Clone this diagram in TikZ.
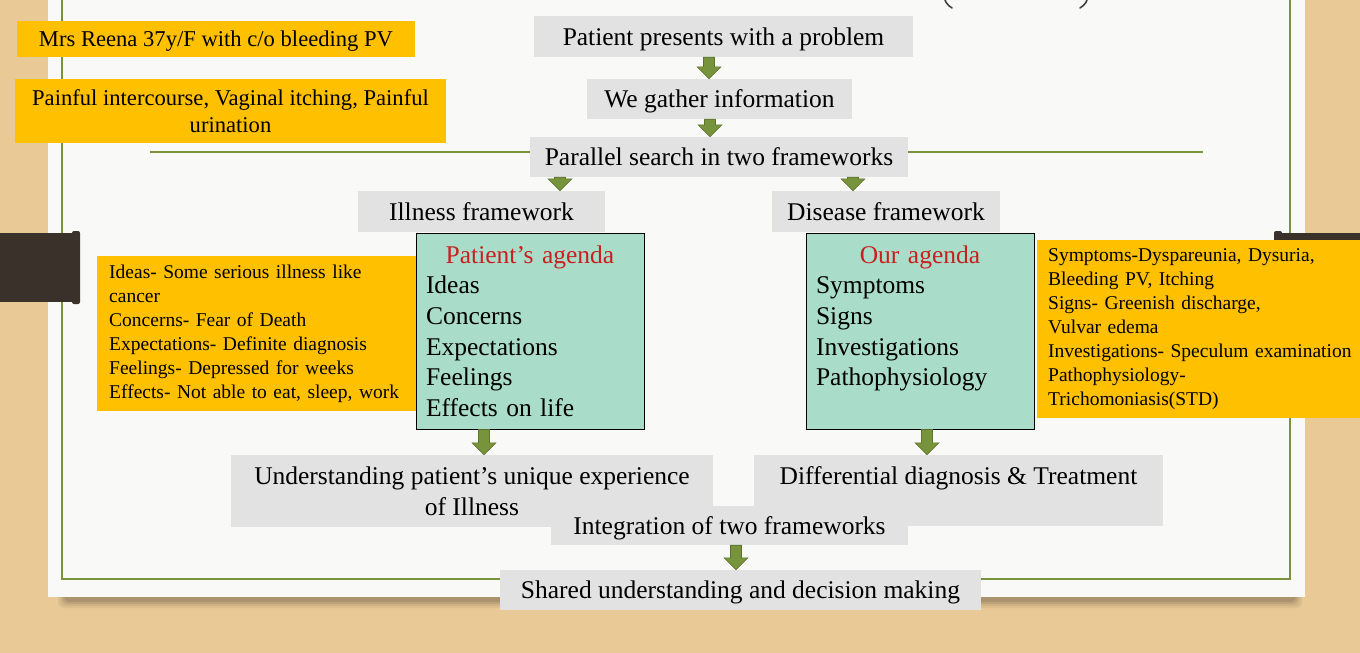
\documentclass[tikz,border=0pt]{standalone}
\usepackage{fontspec}
\setmainfont{Liberation Serif}
\usetikzlibrary{calc}
\definecolor{wood}{RGB}{233,202,150}
\definecolor{paper}{RGB}{249,249,247}
\definecolor{olive}{RGB}{119,147,60}
\definecolor{olivedark}{RGB}{92,116,44}
\definecolor{boxgray}{RGB}{226,226,226}
\definecolor{amber}{RGB}{255,192,0}
\definecolor{mint}{RGB}{169,221,201}
\definecolor{agred}{RGB}{200,32,32}
\definecolor{barc}{RGB}{58,50,42}
\newcommand\bigsz{\fontsize{25.5pt}{30.6pt}\selectfont}
\newcommand\midsz{\fontsize{22.6pt}{27pt}\selectfont}
\newcommand\smallsz{\fontsize{19.5pt}{23.9pt}\selectfont}
\newcommand\blockarrow[3]{%
  \path (#1,0) coordinate (tmpx);
  \filldraw[fill=olive, draw=olivedark, line width=0.6pt]
    let \p1=(tmpx |- #2.south), \p2=(tmpx |- #3.north) in
    ({\x1-5.5pt},\y1) -- ({\x1+5.5pt},\y1) -- ({\x1+5.5pt},{\y2+12pt}) --
    ({\x1+12pt},{\y2+12pt}) -- (\x1,\y2) -- ({\x1-12pt},{\y2+12pt}) --
    ({\x1-5.5pt},{\y2+12pt}) -- cycle;}
\tikzset{
  graybox/.style={fill=boxgray, inner sep=0pt, align=center, font=\bigsz},
  oneline/.style={text depth=0pt},
  amberbox/.style={fill=amber, inner sep=0pt, align=center},
  greenbox/.style={fill=mint, draw=black, line width=0.8pt, text width=208pt,
    inner xsep=10pt, inner ysep=0pt, minimum height=196pt, align=left, font=\bigsz},
  frameline/.style={olive, line width=2pt},
  titlemark/.style={black!75, line width=1.6pt, line cap=round},
}
\begin{document}
\begin{tikzpicture}[x=1pt,y=-1pt]
\clip (0,0) rectangle (1360,653);
\fill[wood] (0,0) rectangle (1360,653);
% paper shadow
\foreach \i/\o in {0/0.05,2/0.06,4/0.08,6/0.10}{
  \fill[black,opacity=\o,rounded corners=6] (58+\i,586) rectangle (1302-\i,608-\i);}
\fill[paper] (48,-5) rectangle (1305,597);
% cut-off title fragments (bottoms of two parentheses)
\draw[titlemark] (944,-6) .. controls (944,1) and (947,5) .. (952,8);
\draw[titlemark] (1088,-6) .. controls (1088,1) and (1085,5) .. (1080,8);
% frame
\draw[frameline] (62,-5) -- (62,579) -- (1290,579) -- (1290,-5);
\draw[frameline] (150,152) -- (1203,152);
% dark bars
\fill[barc] (-1,233) rectangle (76,302);
\fill[barc, rounded corners=2] (72,231) rectangle (80,304);
\fill[barc] (1280,233) rectangle (1361,302);
\fill[barc, rounded corners=2] (1274,231) rectangle (1282,304);

% top-left notes
\node[amberbox, oneline, minimum width=398pt, minimum height=36pt, font=\midsz] (mrs) at (216,39) {Mrs Reena 37y/F with c/o bleeding PV};
\node[amberbox, minimum width=431pt, minimum height=64pt, font=\midsz] (pain) at (230.5,111) {Painful intercourse, Vaginal itching, Painful\\urination};

% main flow
\node[graybox, oneline, minimum width=379pt, minimum height=41pt] (n1) at (723.5,36.5) {Patient presents with a problem};
\node[graybox, oneline, minimum width=265pt, minimum height=40pt] (n2) at (719.5,99) {We gather information};
\node[graybox, oneline, minimum width=378pt, minimum height=40pt] (n3) at (719,157) {Parallel search in two frameworks};
\node[graybox, minimum width=247pt, minimum height=41pt] (ill) at (481.5,211.5) {Illness framework};
\node[graybox, minimum width=228pt, minimum height=41pt] (dis) at (886,211.5) {Disease framework};

% side notes
\node[amberbox, align=left, anchor=north west, text width=310pt, inner xsep=12pt, minimum height=155pt, font=\smallsz] (iy) at (97,256)
  {Ideas- Some serious illness like\\cancer\\Concerns- Fear of Death\\Expectations- Definite diagnosis\\Feelings- Depressed for weeks\\Effects- Not able to eat, sleep, work};
\node[amberbox, align=left, anchor=north west, text width=312pt, inner xsep=11pt, minimum height=178pt, font=\smallsz] (dy) at (1037,240)
  {Symptoms-Dyspareunia, Dysuria,\\Bleeding PV, Itching\\Signs- Greenish discharge,\\Vulvar edema\\Investigations- Speculum examination\\Pathophysiology-\\Trichomoniasis(STD)};

% agendas
\node[greenbox] (pa) at (530,331) {\makebox[208pt][c]{\color{agred}Patient’s agenda}\\Ideas\\Concerns\\Expectations\\Feelings\\Effects on life};
\node[greenbox] (oa) at (920,331) {\makebox[208pt][c]{\color{agred}Our agenda}\\Symptoms\\Signs\\Investigations\\Pathophysiology\\\mbox{}};

% outcomes
\node[graybox, minimum width=482pt, minimum height=72pt] (und) at (472,491) {Understanding patient’s unique experience\\of Illness};
\node[graybox, minimum width=409pt, minimum height=71pt] (ddx) at (958.5,490.5) {Differential diagnosis \& Treatment\\\mbox{}};
\node[graybox, oneline, minimum width=357pt, minimum height=39pt] (int) at (729.5,525.5) {Integration of two frameworks};
\node[graybox, oneline, minimum width=481pt, minimum height=40pt] (sh) at (740.5,590) {Shared understanding and decision making};

% arrows
\blockarrow{709}{n1}{n2}
\blockarrow{710}{n2}{n3}
\blockarrow{560}{n3}{ill}
\blockarrow{853}{n3}{dis}
\blockarrow{484}{pa}{und}
\blockarrow{927}{oa}{ddx}
\blockarrow{736}{int}{sh}
\end{tikzpicture}
\end{document}
